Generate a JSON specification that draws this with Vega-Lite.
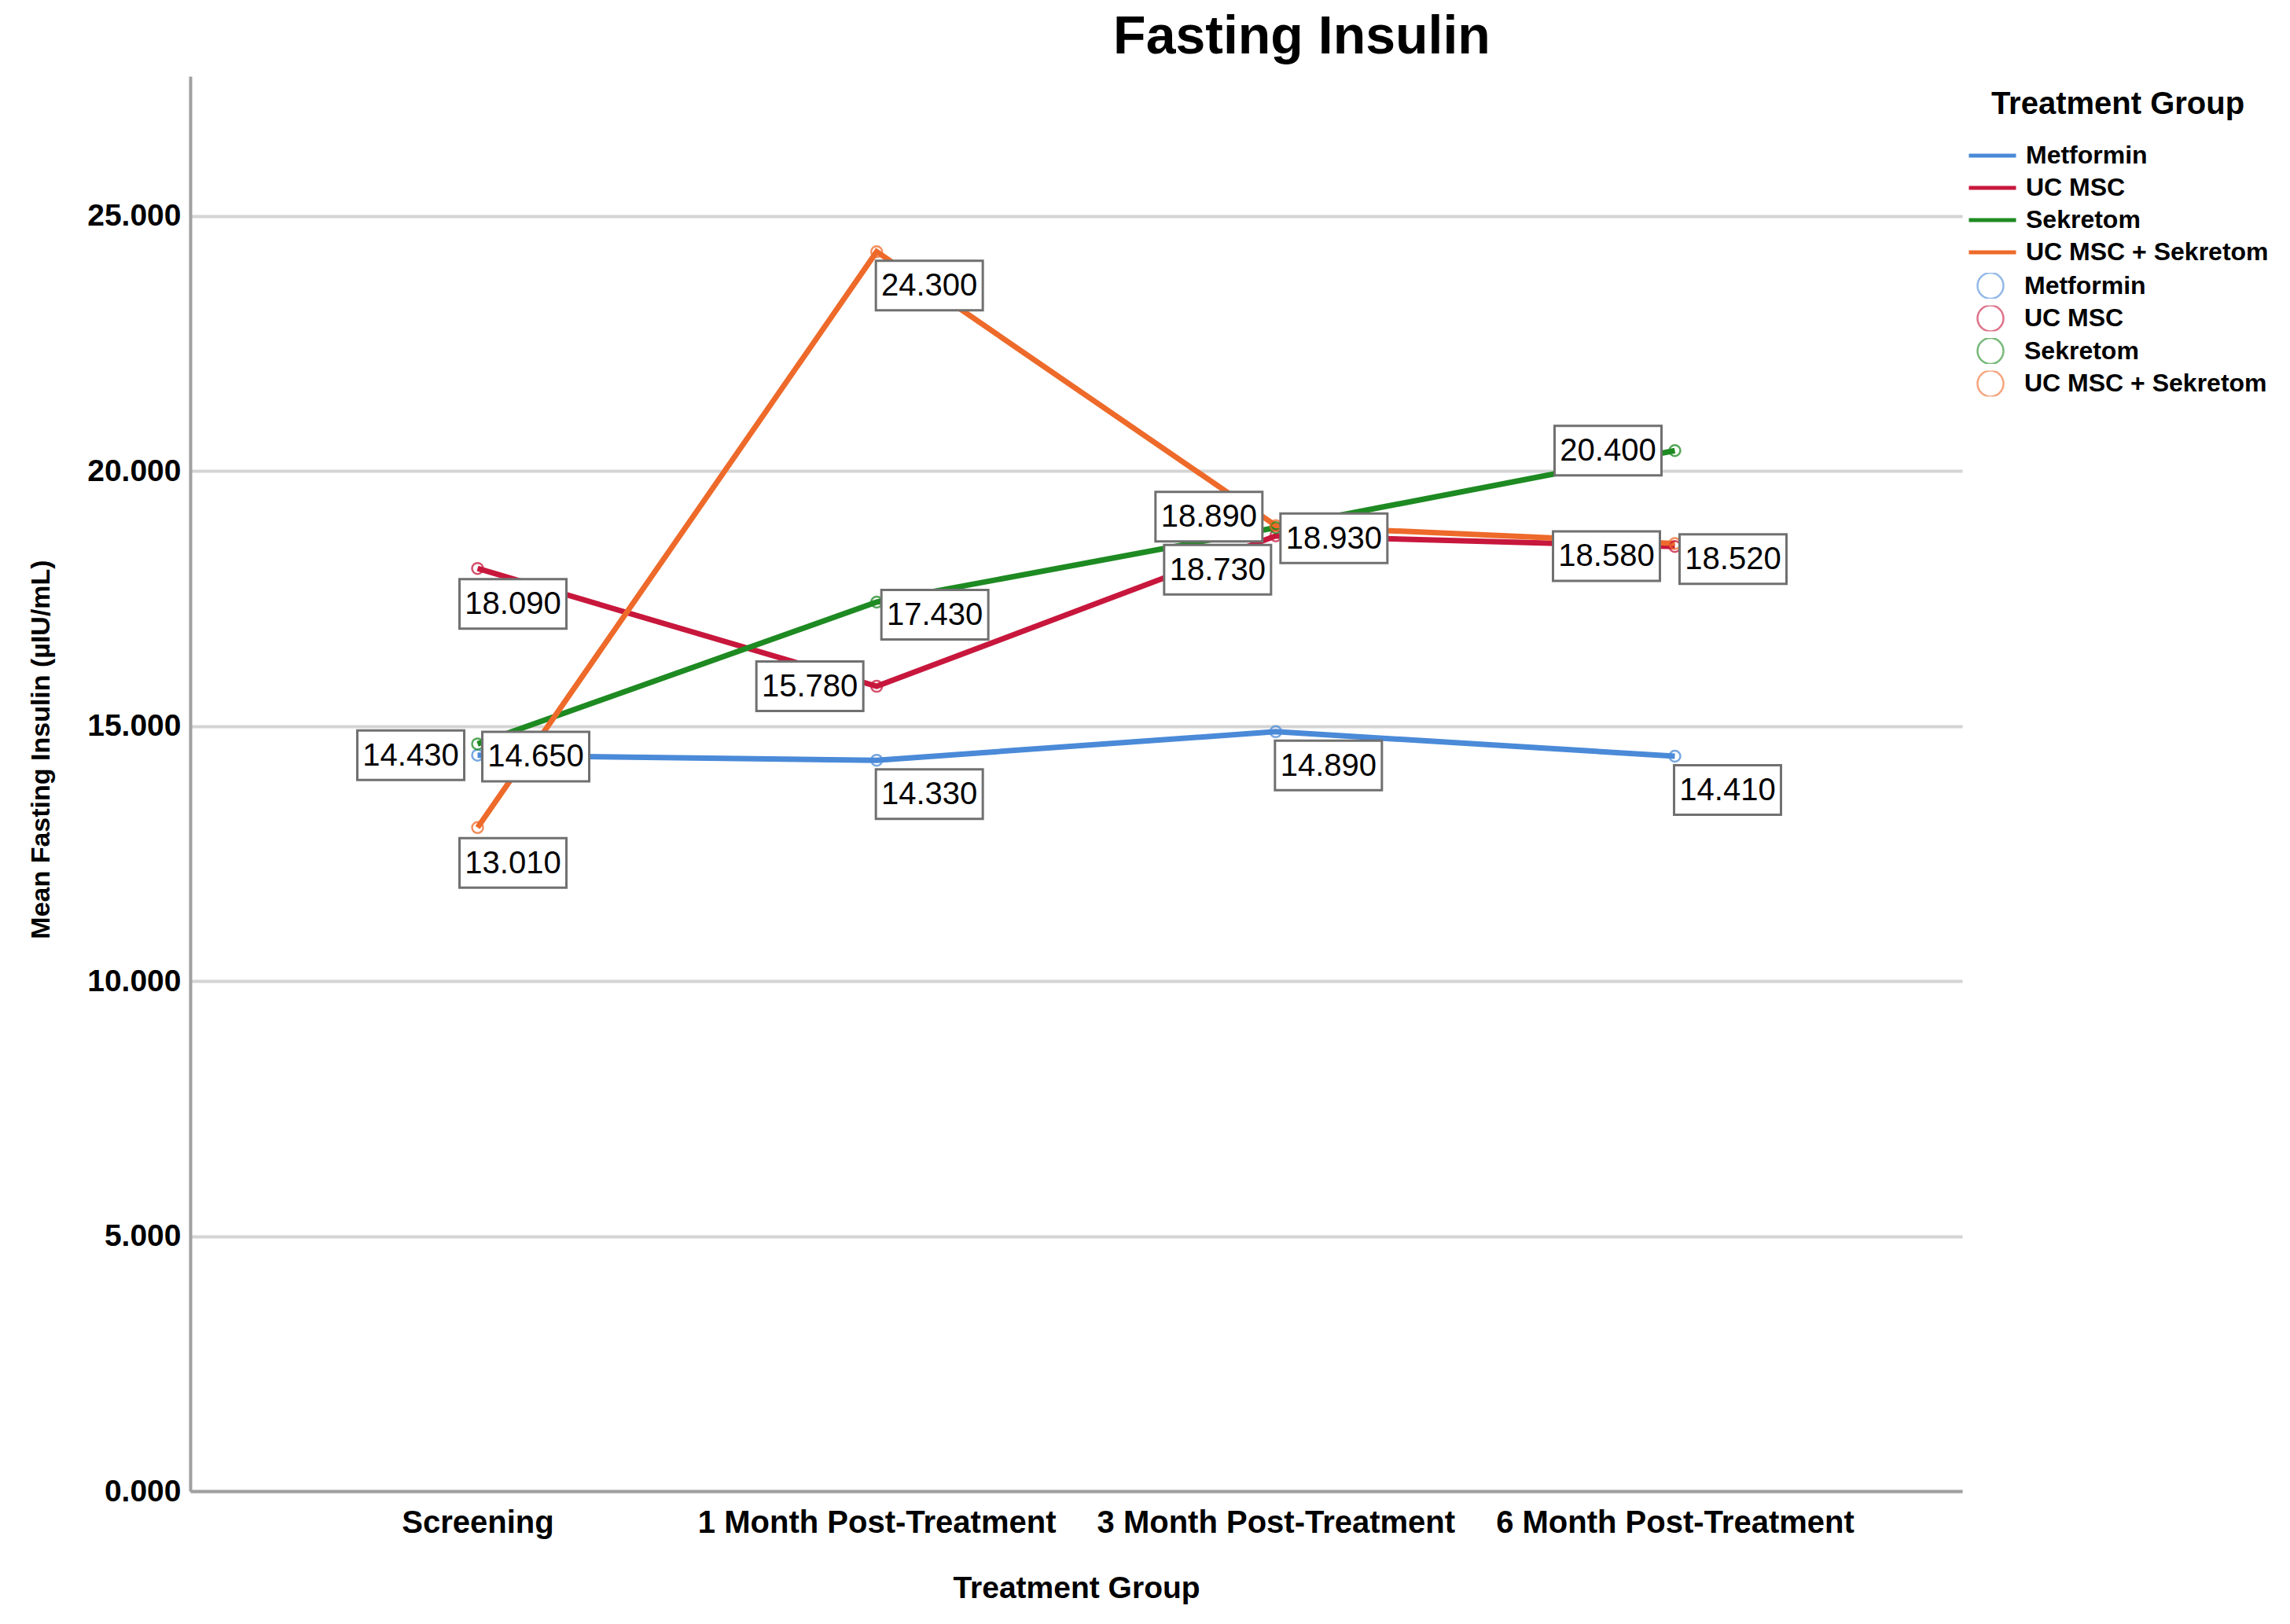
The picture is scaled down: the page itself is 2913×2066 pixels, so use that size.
{
  "$schema": "https://vega.github.io/schema/vega-lite/v6.json",
  "autosize": {"type": "none"},
  "padding": {"left": 242, "top": 97, "right": 417, "bottom": 169},
  "width": 2254,
  "height": 1800,
  "background": "white",
  "title": {
    "text": "Fasting Insulin",
    "font": "Liberation Sans",
    "fontSize": 68,
    "fontWeight": "bold",
    "color": "#000000",
    "anchor": "middle",
    "frame": "group",
    "dx": 287,
    "dy": 66,
    "baseline": "alphabetic",
    "offset": 27
  },
  "data": {
    "values": [
      {"group": "Metformin", "time": "Screening", "value": 14.43},
      {"group": "Metformin", "time": "1 Month Post-Treatment", "value": 14.33},
      {"group": "Metformin", "time": "3 Month Post-Treatment", "value": 14.89},
      {"group": "Metformin", "time": "6 Month Post-Treatment", "value": 14.41},
      {"group": "UC MSC", "time": "Screening", "value": 18.09},
      {"group": "UC MSC", "time": "1 Month Post-Treatment", "value": 15.78},
      {"group": "UC MSC", "time": "3 Month Post-Treatment", "value": 18.73},
      {"group": "UC MSC", "time": "6 Month Post-Treatment", "value": 18.52},
      {"group": "Sekretom", "time": "Screening", "value": 14.65},
      {"group": "Sekretom", "time": "1 Month Post-Treatment", "value": 17.43},
      {"group": "Sekretom", "time": "3 Month Post-Treatment", "value": 18.89},
      {"group": "Sekretom", "time": "6 Month Post-Treatment", "value": 20.4},
      {"group": "UC MSC + Sekretom", "time": "Screening", "value": 13.01},
      {"group": "UC MSC + Sekretom", "time": "1 Month Post-Treatment", "value": 24.3},
      {"group": "UC MSC + Sekretom", "time": "3 Month Post-Treatment", "value": 18.93},
      {"group": "UC MSC + Sekretom", "time": "6 Month Post-Treatment", "value": 18.58}
    ]
  },
  "encoding": {
    "x": {
      "field": "time",
      "type": "nominal",
      "sort": ["Screening", "1 Month Post-Treatment", "3 Month Post-Treatment", "6 Month Post-Treatment"],
      "scale": {"type": "point", "padding": 0.72},
      "title": "Treatment Group",
      "axis": {
        "labelAngle": 0,
        "labelFontSize": 40,
        "labelFontWeight": "bold",
        "labelPadding": 20,
        "labelLimit": 800,
        "ticks": false,
        "grid": false,
        "titleFontSize": 39,
        "titleFontWeight": "bold",
        "titleY": 123,
        "titleBaseline": "middle"
      }
    },
    "y": {
      "field": "value",
      "type": "quantitative",
      "scale": {"domain": [0, 27.74], "nice": false, "zero": true},
      "title": "Mean Fasting Insulin (µIU/mL)",
      "axis": {
        "values": [0, 5, 10, 15, 20, 25],
        "format": ".3f",
        "labelFontSize": 39,
        "labelFontWeight": "bold",
        "labelPadding": 12,
        "ticks": false,
        "grid": true,
        "gridColor": "#d4d4d4",
        "gridWidth": 4,
        "titleFontSize": 34,
        "titleFontWeight": "bold",
        "titleX": -190,
        "titleY": 856,
        "titleAlign": "center",
        "titleBaseline": "middle"
      }
    }
  },
  "layer": [
    {
      "mark": {"type": "line", "strokeWidth": 7},
      "encoding": {
        "color": {
          "field": "group",
          "type": "nominal",
          "scale": {
            "domain": ["Metformin", "UC MSC", "Sekretom", "UC MSC + Sekretom"],
            "range": ["#4a8ad8", "#c8173c", "#1e8a22", "#ee6a2a"]
          },
          "legend": {
            "orient": "right",
            "offset": -10,
            "padding": 16,
            "title": "Treatment Group",
            "titleFontSize": 40,
            "titleFontWeight": "bold",
            "titleAnchor": "middle",
            "titleLimit": 800,
            "titlePadding": 29,
            "symbolType": "stroke",
            "symbolSize": 3600,
            "symbolStrokeWidth": 5,
            "clipHeight": 32,
            "rowPadding": 9,
            "labelFontSize": 32,
            "labelFontWeight": "bold",
            "labelOffset": 10,
            "labelLimit": 600
          }
        }
      }
    },
    {
      "mark": {"type": "point", "filled": false, "size": 196, "strokeWidth": 2.5, "opacity": 0.75},
      "encoding": {
        "stroke": {
          "field": "group",
          "type": "nominal",
          "scale": {
            "domain": ["Metformin", "UC MSC", "Sekretom", "UC MSC + Sekretom"],
            "range": ["#4a8ad8", "#c8173c", "#1e8a22", "#ee6a2a"]
          },
          "legend": {
            "orient": "none",
            "legendX": 2272,
            "legendY": 250,
            "title": null,
            "symbolType": "circle",
            "symbolSize": 1089,
            "symbolStrokeWidth": 2.5,
            "symbolFillColor": "transparent",
            "symbolOpacity": 0.6,
            "clipHeight": 33,
            "rowPadding": 8.5,
            "labelFontSize": 32,
            "labelFontWeight": "bold",
            "labelOffset": 25,
            "labelLimit": 600,
            "padding": 0
          }
        }
      }
    },
    {
      "transform": [{"filter": "indexof(['UC MSC|1 Month Post-Treatment', 'Metformin|Screening', 'Sekretom|6 Month Post-Treatment'], datum.group + '|' + datum.time) >= 0"}],
      "layer": [
        {"mark": {"type": "point", "shape": "M-15.3,-3.15H-1.7V3.15H-15.3Z", "size": 400, "filled": true, "fill": "white", "stroke": "#707070", "strokeWidth": 3, "opacity": 1}},
        {"mark": {"type": "text", "dx": -85, "dy": 1, "fontSize": 40, "align": "center", "baseline": "middle"}, "encoding": {"text": {"field": "value", "type": "quantitative", "format": ".3f"}}}
      ]
    },
    {
      "transform": [{"filter": "datum.group == 'UC MSC + Sekretom' && datum.time == '6 Month Post-Treatment'"}],
      "layer": [
        {"mark": {"type": "point", "shape": "M-15.5,-1.55H-1.9V4.75H-15.5Z", "size": 400, "filled": true, "fill": "white", "stroke": "#707070", "strokeWidth": 3, "opacity": 1}},
        {"mark": {"type": "text", "dx": -87, "dy": 17, "fontSize": 40, "align": "center", "baseline": "middle"}, "encoding": {"text": {"field": "value", "type": "quantitative", "format": ".3f"}}}
      ]
    },
    {
      "transform": [{"filter": "datum.group == 'Sekretom' && datum.time == '3 Month Post-Treatment'"}],
      "layer": [
        {"mark": {"type": "point", "shape": "M-15.3,-4.55H-1.7V1.75H-15.3Z", "size": 400, "filled": true, "fill": "white", "stroke": "#707070", "strokeWidth": 3, "opacity": 1}},
        {"mark": {"type": "text", "dx": -85, "dy": -13, "fontSize": 40, "align": "center", "baseline": "middle"}, "encoding": {"text": {"field": "value", "type": "quantitative", "format": ".3f"}}}
      ]
    },
    {
      "transform": [{"filter": "indexof(['Sekretom|1 Month Post-Treatment', 'Sekretom|Screening', 'UC MSC + Sekretom|3 Month Post-Treatment', 'UC MSC|6 Month Post-Treatment'], datum.group + '|' + datum.time) >= 0"}],
      "layer": [
        {"mark": {"type": "point", "shape": "M0.6,-1.55H14.2V4.75H0.6Z", "size": 400, "filled": true, "fill": "white", "stroke": "#707070", "strokeWidth": 3, "opacity": 1}},
        {"mark": {"type": "text", "dx": 74, "dy": 17, "fontSize": 40, "align": "center", "baseline": "middle"}, "encoding": {"text": {"field": "value", "type": "quantitative", "format": ".3f"}}}
      ]
    },
    {
      "transform": [{"filter": "indexof(['UC MSC + Sekretom|1 Month Post-Treatment', 'Metformin|1 Month Post-Treatment', 'Metformin|3 Month Post-Treatment', 'Metformin|6 Month Post-Treatment'], datum.group + '|' + datum.time) >= 0"}],
      "layer": [
        {"mark": {"type": "point", "shape": "M-0.1,1.15H13.5V7.45H-0.1Z", "size": 400, "filled": true, "fill": "white", "stroke": "#707070", "strokeWidth": 3, "opacity": 1}},
        {"mark": {"type": "text", "dx": 67, "dy": 44, "fontSize": 40, "align": "center", "baseline": "middle"}, "encoding": {"text": {"field": "value", "type": "quantitative", "format": ".3f"}}}
      ]
    },
    {
      "transform": [{"filter": "indexof(['UC MSC|Screening', 'UC MSC + Sekretom|Screening'], datum.group + '|' + datum.time) >= 0"}],
      "layer": [
        {"mark": {"type": "point", "shape": "M-2.3,1.35H11.3V7.65H-2.3Z", "size": 400, "filled": true, "fill": "white", "stroke": "#707070", "strokeWidth": 3, "opacity": 1}},
        {"mark": {"type": "text", "dx": 45, "dy": 46, "fontSize": 40, "align": "center", "baseline": "middle"}, "encoding": {"text": {"field": "value", "type": "quantitative", "format": ".3f"}}}
      ]
    },
    {
      "transform": [{"filter": "datum.group == 'UC MSC' && datum.time == '3 Month Post-Treatment'"}],
      "layer": [
        {"mark": {"type": "point", "shape": "M-14.2,1.15H-0.6V7.45H-14.2Z", "size": 400, "filled": true, "fill": "white", "stroke": "#707070", "strokeWidth": 3, "opacity": 1}},
        {"mark": {"type": "text", "dx": -74, "dy": 44, "fontSize": 40, "align": "center", "baseline": "middle"}, "encoding": {"text": {"field": "value", "type": "quantitative", "format": ".3f"}}}
      ]
    }
  ],
  "config": {
    "font": "Liberation Sans",
    "view": {"stroke": null},
    "axis": {
      "labelFont": "Liberation Sans",
      "titleFont": "Liberation Sans",
      "labelColor": "#000000",
      "titleColor": "#000000",
      "domainColor": "#a0a0a0",
      "domainWidth": 4
    },
    "legend": {
      "labelFont": "Liberation Sans",
      "titleFont": "Liberation Sans",
      "labelColor": "#000000",
      "titleColor": "#000000"
    },
    "text": {"font": "Liberation Sans", "color": "#000000"}
  }
}
